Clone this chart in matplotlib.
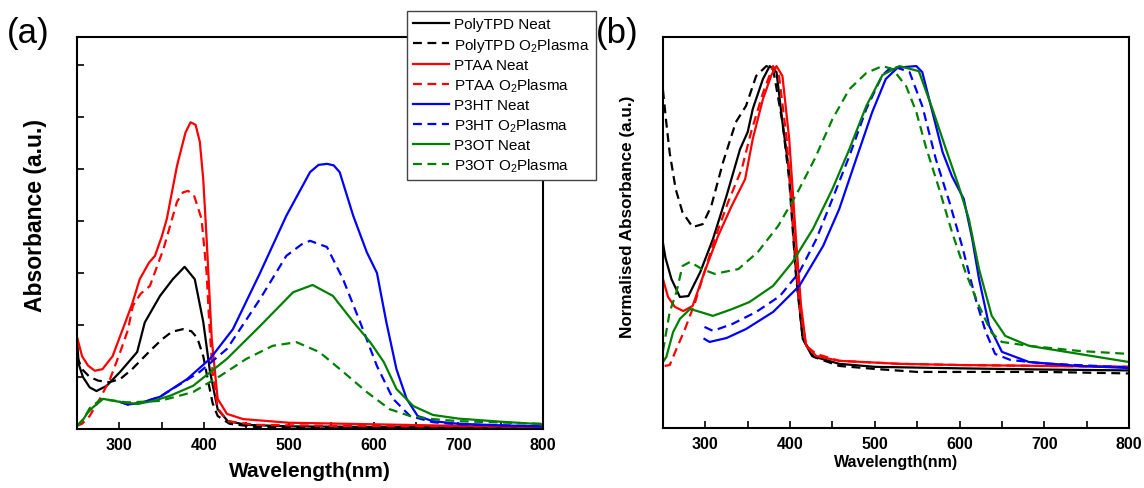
import numpy as np
import matplotlib
matplotlib.use("Agg")
import matplotlib.pyplot as plt
from matplotlib.ticker import MultipleLocator

plt.rcParams['font.family'] = ['Liberation Sans', 'DejaVu Sans']
plt.rcParams['mathtext.fontset'] = 'custom'
plt.rcParams['mathtext.rm'] = 'Liberation Sans'
plt.rcParams['mathtext.it'] = 'Liberation Sans:italic'
plt.rcParams['mathtext.bf'] = 'Liberation Sans:bold'

# ---- panel (a): absorbance ----
wl_tpd_a = [250, 252, 257, 265, 273, 285, 301, 321, 330, 348, 363, 377, 389, 399, 407, 416, 428, 450, 500, 600, 700, 800]
abs_tpd_a = [0.173, 0.125, 0.100, 0.080, 0.073, 0.083, 0.110, 0.148, 0.205, 0.256, 0.288, 0.312, 0.288, 0.206, 0.110, 0.038, 0.015, 0.008, 0.005, 0.004, 0.003, 0.003]
wl_tpd_o2_a = [250, 256, 265, 275, 288, 301, 315, 336, 350, 362, 375, 385, 392, 399, 405, 410, 416, 430, 460, 500, 600, 800]
abs_tpd_o2_a = [0.140, 0.115, 0.100, 0.093, 0.090, 0.096, 0.115, 0.150, 0.172, 0.187, 0.192, 0.188, 0.175, 0.140, 0.090, 0.050, 0.025, 0.010, 0.004, 0.003, 0.002, 0.001]
wl_ptaa_a = [250, 256, 263, 271, 280, 292, 304, 315, 324, 335, 342, 350, 356, 368, 378, 384, 390, 395, 399, 403, 409, 416, 427, 446, 500, 600, 700, 800]
abs_ptaa_a = [0.177, 0.140, 0.122, 0.112, 0.115, 0.140, 0.192, 0.240, 0.288, 0.320, 0.333, 0.370, 0.404, 0.506, 0.570, 0.590, 0.585, 0.552, 0.480, 0.365, 0.173, 0.058, 0.029, 0.019, 0.012, 0.009, 0.006, 0.004]
wl_ptaa_o2_a = [250, 256, 265, 277, 289, 301, 310, 316, 325, 336, 352, 368, 375, 381, 388, 397, 403, 406, 410, 416, 428, 460, 550, 700, 800]
abs_ptaa_o2_a = [0.006, 0.010, 0.025, 0.058, 0.096, 0.148, 0.190, 0.237, 0.260, 0.275, 0.346, 0.437, 0.455, 0.458, 0.450, 0.404, 0.300, 0.206, 0.110, 0.040, 0.015, 0.008, 0.006, 0.005, 0.004]
wl_p3ht_a = [301, 310, 325, 348, 380, 407, 434, 466, 497, 525, 535, 545, 553, 560, 576, 592, 604, 615, 627, 639, 652, 670, 700, 750, 800]
abs_p3ht_a = [0.052, 0.047, 0.050, 0.062, 0.096, 0.135, 0.192, 0.300, 0.410, 0.494, 0.508, 0.510, 0.507, 0.494, 0.410, 0.340, 0.300, 0.206, 0.115, 0.058, 0.025, 0.015, 0.010, 0.007, 0.005]
wl_p3ht_o2_a = [301, 310, 325, 348, 395, 427, 466, 497, 515, 525, 545, 564, 584, 604, 623, 643, 670, 700, 800]
abs_p3ht_o2_a = [0.052, 0.047, 0.050, 0.062, 0.110, 0.154, 0.250, 0.333, 0.355, 0.362, 0.350, 0.288, 0.206, 0.121, 0.058, 0.025, 0.013, 0.009, 0.005]
wl_p3ot_a = [250, 256, 262, 269, 281, 290, 301, 321, 340, 360, 387, 427, 466, 505, 528, 552, 576, 596, 612, 627, 647, 670, 700, 750, 800]
abs_p3ot_a = [0.006, 0.015, 0.030, 0.042, 0.058, 0.055, 0.052, 0.048, 0.054, 0.064, 0.083, 0.135, 0.198, 0.263, 0.277, 0.256, 0.206, 0.167, 0.129, 0.077, 0.044, 0.027, 0.020, 0.014, 0.009]
wl_p3ot_o2_a = [250, 258, 265, 279, 309, 348, 387, 419, 450, 481, 509, 536, 564, 592, 619, 643, 670, 700, 800]
abs_p3ot_o2_a = [0.006, 0.020, 0.040, 0.058, 0.051, 0.054, 0.071, 0.102, 0.135, 0.160, 0.167, 0.148, 0.110, 0.071, 0.038, 0.025, 0.019, 0.015, 0.010]

# ---- panel (b): normalised absorbance ----
wl_tpd_b = [250, 253, 260, 270, 280, 294, 309, 325, 341, 350, 356, 368, 376, 384, 391, 399, 407, 415, 426, 458, 500, 600, 700, 800]
n_tpd_b = [0.41, 0.36, 0.29, 0.23, 0.233, 0.313, 0.423, 0.567, 0.723, 0.78, 0.857, 0.957, 1.0, 0.98, 0.813, 0.647, 0.313, 0.09, 0.033, 0.007, -0.003, -0.008, -0.012, -0.015]
wl_tpd_o2_b = [250, 254, 258, 265, 273, 285, 297, 307, 321, 336, 348, 360, 372, 380, 391, 399, 407, 415, 428, 458, 500, 550, 600, 700, 800]
n_tpd_o2_b = [0.92, 0.81, 0.71, 0.59, 0.513, 0.463, 0.473, 0.533, 0.68, 0.813, 0.867, 0.967, 1.0, 0.99, 0.813, 0.62, 0.30, 0.09, 0.03, 0.0, -0.01, -0.02, -0.02, -0.02, -0.025]
wl_ptaa_b = [250, 256, 264, 274, 285, 299, 315, 331, 347, 356, 368, 378, 384, 391, 399, 407, 413, 419, 431, 458, 529, 600, 700, 800]
n_ptaa_b = [0.29, 0.23, 0.197, 0.183, 0.20, 0.313, 0.433, 0.533, 0.623, 0.757, 0.89, 0.97, 1.0, 0.967, 0.757, 0.423, 0.2, 0.067, 0.033, 0.017, 0.007, 0.003, 0.0, -0.003]
wl_ptaa_o2_b = [252, 258, 266, 276, 288, 299, 311, 327, 343, 354, 368, 380, 387, 396, 405, 411, 419, 431, 458, 529, 600, 800]
n_ptaa_o2_b = [0.0, 0.003, 0.057, 0.123, 0.213, 0.313, 0.423, 0.547, 0.657, 0.78, 0.91, 1.0, 0.967, 0.757, 0.423, 0.2, 0.067, 0.04, 0.017, 0.007, 0.003, -0.003]
wl_p3ht_b = [299, 305, 325, 348, 380, 411, 439, 458, 478, 497, 513, 527, 549, 556, 568, 580, 591, 605, 615, 623, 635, 650, 682, 741, 800]
n_p3ht_b = [0.09, 0.08, 0.093, 0.123, 0.18, 0.267, 0.40, 0.523, 0.69, 0.847, 0.957, 0.995, 1.0, 0.98, 0.847, 0.713, 0.633, 0.557, 0.423, 0.29, 0.133, 0.047, 0.013, 0.0, -0.007]
wl_p3ht_o2_b = [299, 309, 332, 360, 388, 411, 431, 450, 470, 490, 509, 521, 541, 556, 572, 588, 603, 619, 631, 642, 660, 700, 800]
n_p3ht_o2_b = [0.13, 0.117, 0.14, 0.18, 0.233, 0.313, 0.423, 0.557, 0.70, 0.857, 0.97, 1.0, 0.98, 0.867, 0.69, 0.547, 0.40, 0.223, 0.113, 0.04, 0.02, 0.008, -0.005]
wl_p3ot_b = [250, 254, 262, 270, 282, 294, 309, 332, 352, 380, 403, 427, 450, 470, 490, 509, 529, 552, 568, 584, 599, 611, 623, 638, 654, 682, 741, 800]
n_p3ot_b = [0.013, 0.03, 0.113, 0.157, 0.19, 0.18, 0.167, 0.19, 0.213, 0.267, 0.347, 0.457, 0.59, 0.723, 0.867, 0.97, 1.0, 0.983, 0.857, 0.723, 0.60, 0.49, 0.323, 0.167, 0.10, 0.067, 0.04, 0.013]
wl_p3ot_o2_b = [250, 258, 266, 273, 282, 296, 311, 339, 362, 386, 409, 429, 450, 470, 490, 509, 521, 537, 549, 560, 576, 591, 607, 623, 638, 650, 682, 741, 800]
n_p3ot_o2_b = [0.05, 0.18, 0.247, 0.333, 0.347, 0.323, 0.307, 0.323, 0.38, 0.467, 0.58, 0.69, 0.823, 0.923, 0.977, 1.0, 0.99, 0.933, 0.847, 0.733, 0.59, 0.447, 0.313, 0.20, 0.11, 0.08, 0.067, 0.05, 0.04]

labels = ['PolyTPD Neat', 'PolyTPD O$_2$Plasma', 'PTAA Neat', 'PTAA O$_2$Plasma',
          'P3HT Neat', 'P3HT O$_2$Plasma', 'P3OT Neat', 'P3OT O$_2$Plasma']
colors = ['black', 'black', '#ff0000', '#ff0000', '#0000ff', '#0000ff', '#008000', '#008000']
styles = ['-', (0, (4, 2.5))] * 4

series_a = [(wl_tpd_a, abs_tpd_a), (wl_tpd_o2_a, abs_tpd_o2_a), (wl_ptaa_a, abs_ptaa_a), (wl_ptaa_o2_a, abs_ptaa_o2_a),
            (wl_p3ht_a, abs_p3ht_a), (wl_p3ht_o2_a, abs_p3ht_o2_a), (wl_p3ot_a, abs_p3ot_a), (wl_p3ot_o2_a, abs_p3ot_o2_a)]
series_b = [(wl_tpd_b, n_tpd_b), (wl_tpd_o2_b, n_tpd_o2_b), (wl_ptaa_b, n_ptaa_b), (wl_ptaa_o2_b, n_ptaa_o2_b),
            (wl_p3ht_b, n_p3ht_b), (wl_p3ht_o2_b, n_p3ht_o2_b), (wl_p3ot_b, n_p3ot_b), (wl_p3ot_o2_b, n_p3ot_o2_b)]

fig = plt.figure(figsize=(11.44, 4.89), dpi=100)
ax1 = fig.add_axes([0.0673, 0.1207, 0.4074, 0.8016])
ax2 = fig.add_axes([0.5795, 0.1227, 0.4074, 0.7996])

handles = []
for (x, y), c, ls, lab in zip(series_a, colors, styles, labels):
    h, = ax1.plot(x, y, color=c, linestyle=ls, linewidth=1.6, label=lab)
    handles.append(h)
for (x, y), c, ls in zip(series_b, colors, styles):
    ax2.plot(x, y, color=c, linestyle=ls, linewidth=1.6)

ax1.set_ylim(0, 0.754)
ax2.set_ylim(-0.207, 1.097)

for ax in (ax1, ax2):
    ax.set_xlim(250, 800)
    ax.xaxis.set_major_locator(MultipleLocator(100))
    ax.xaxis.set_minor_locator(MultipleLocator(50))
    ax.tick_params(axis='x', which='both', direction='in', length=5, width=1.2,
                   top=False, labelsize=11.5, pad=6)
    for sp in ax.spines.values():
        sp.set_linewidth(1.5)
    plt.setp(ax.get_xticklabels(), fontweight='bold')

ax1.yaxis.set_major_locator(MultipleLocator(0.1))
ax1.tick_params(axis='y', direction='in', length=5, width=1.2, labelleft=False, right=False)
ax2.set_yticks([])

ax1.set_xlabel('Wavelength(nm)', fontsize=15, fontweight='bold', labelpad=6)
ax1.set_ylabel('Absorbance (a.u.)', fontsize=16.5, fontweight='bold')
ax1.yaxis.set_label_coords(-0.064, 0.548)
ax2.set_xlabel('Wavelength(nm)', fontsize=11.5, fontweight='bold', labelpad=2)
ax2.set_ylabel('Normalised Absorbance (a.u.)', fontsize=12.3, fontweight='bold')
ax2.yaxis.set_label_coords(-0.060, 0.542)

fig.text(7 / 1144, 1 - 34 / 489, '(a)', fontsize=25, va='center', ha='left')
fig.text(596 / 1144, 1 - 34 / 489, '(b)', fontsize=25, va='center', ha='left')

leg = fig.legend(handles=handles, loc='upper left', bbox_to_anchor=(407 / 1144, 1 - 12 / 489),
                 fontsize=11, frameon=True, fancybox=False, framealpha=1, edgecolor='#444444',
                 handlelength=2.3, handletextpad=0.35, labelspacing=0.28, borderpad=0.42,
                 borderaxespad=0)
leg.get_frame().set_linewidth(1.0)

fig.savefig('out.png', dpi=100)
